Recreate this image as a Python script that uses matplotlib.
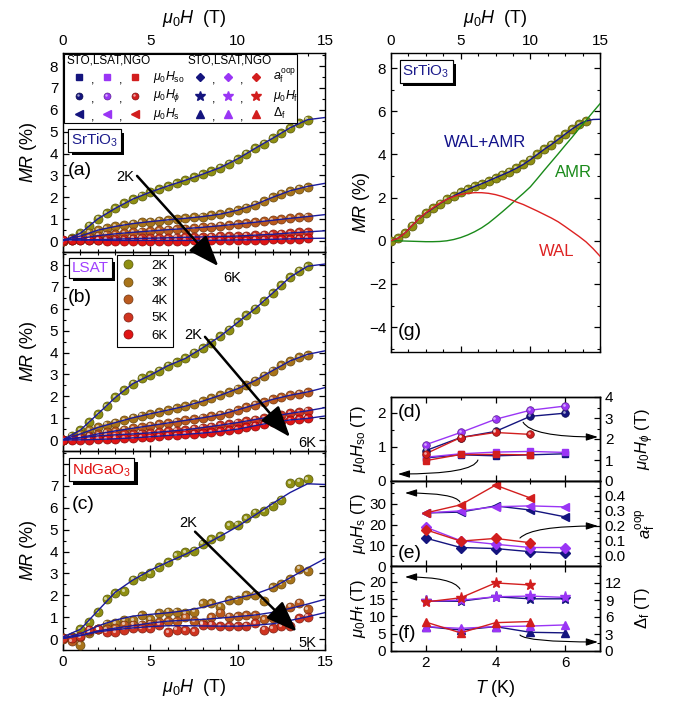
import numpy as np
import matplotlib
matplotlib.use('Agg')
import matplotlib.pyplot as plt
import matplotlib.colors as mcolors
from matplotlib import patheffects
from matplotlib.patches import Rectangle
from matplotlib.ticker import MultipleLocator
from matplotlib.transforms import ScaledTranslation

plt.rcParams['font.family'] = ['Liberation Sans', 'DejaVu Sans']
plt.rcParams['mathtext.fontset'] = 'custom'
plt.rcParams['mathtext.rm'] = 'Liberation Sans'
plt.rcParams['mathtext.it'] = 'Liberation Sans:italic'
plt.rcParams['mathtext.bf'] = 'Liberation Sans:bold'
plt.rcParams['axes.linewidth'] = 1.0

# ---- field grids (T)
B_pts = np.arange(0, 14.01, 0.5)
B_fit = np.arange(0, 15.01, 1.0)
B_fine = np.arange(0, 15.01, 0.5)

temp_labels = ['2K', '3K', '4K', '5K', '6K']
temp_colors = ['#8f8f12', '#a8741a', '#ba5a1e', '#cf3420', '#e01414']
fit_blue = '#1a1a9a'

# ---- SrTiO3 MR (%)
sto_pts = [
    [0.0, 0.12, 0.36, 0.7, 1.02, 1.28, 1.5, 1.72, 1.92, 2.08, 2.24, 2.38, 2.52, 2.64, 2.78, 2.92, 3.06, 3.2, 3.36, 3.54, 3.76, 4.0, 4.24, 4.46, 4.7, 4.94, 5.18, 5.4, 5.55],
    [0.02, 0.1, 0.23, 0.38, 0.5, 0.6, 0.67, 0.74, 0.8, 0.85, 0.89, 0.93, 0.97, 1.0, 1.04, 1.08, 1.12, 1.17, 1.23, 1.31, 1.41, 1.53, 1.67, 1.83, 2.0, 2.17, 2.3, 2.4, 2.48],
    [0.0, 0.05, 0.12, 0.18, 0.25, 0.3, 0.33, 0.37, 0.4, 0.43, 0.46, 0.49, 0.52, 0.54, 0.57, 0.6, 0.63, 0.66, 0.7, 0.74, 0.78, 0.82, 0.86, 0.9, 0.95, 1.0, 1.04, 1.08, 1.12],
    [0.02, 0.03, 0.04, 0.05, 0.07, 0.08, 0.09, 0.1, 0.11, 0.12, 0.13, 0.14, 0.15, 0.16, 0.17, 0.18, 0.19, 0.2, 0.21, 0.22, 0.23, 0.25, 0.27, 0.29, 0.31, 0.34, 0.37, 0.4, 0.42],
    [0.04, 0.04, 0.03, 0.03, 0.03, 0.02, 0.02, 0.02, 0.02, 0.02, 0.02, 0.02, 0.02, 0.02, 0.02, 0.03, 0.03, 0.03, 0.04, 0.04, 0.05, 0.05, 0.06, 0.07, 0.08, 0.09, 0.1, 0.11, 0.12],
]
sto_fit = [
    [0.0, 0.36, 1.02, 1.5, 1.92, 2.24, 2.52, 2.78, 3.06, 3.36, 3.76, 4.24, 4.7, 5.18, 5.55, 5.65],
    [0.05, 0.23, 0.5, 0.67, 0.8, 0.89, 0.97, 1.04, 1.12, 1.23, 1.41, 1.67, 2.0, 2.3, 2.5, 2.64],
    [0.05, 0.12, 0.25, 0.33, 0.4, 0.46, 0.52, 0.57, 0.63, 0.7, 0.78, 0.86, 0.95, 1.04, 1.12, 1.21],
    [0.06, 0.05, 0.07, 0.09, 0.11, 0.13, 0.15, 0.17, 0.19, 0.21, 0.23, 0.27, 0.31, 0.37, 0.42, 0.47],
    [0.08, 0.05, 0.04, 0.03, 0.03, 0.03, 0.03, 0.03, 0.03, 0.04, 0.05, 0.06, 0.08, 0.1, 0.12, 0.13],
]

# ---- LSAT MR (%)
lsat_pts = [
    [0.0, 0.2, 0.46, 0.82, 1.2, 1.55, 1.95, 2.3, 2.58, 2.82, 2.97, 3.18, 3.4, 3.58, 3.73, 4.0, 4.22, 4.45, 4.75, 5.05, 5.38, 5.71, 6.01, 6.34, 6.72, 7.08, 7.45, 7.75, 7.95],
    [0.0, 0.1, 0.28, 0.45, 0.58, 0.7, 0.8, 0.9, 1.02, 1.12, 1.2, 1.28, 1.37, 1.45, 1.55, 1.66, 1.78, 1.92, 2.05, 2.2, 2.35, 2.52, 2.72, 2.95, 3.18, 3.42, 3.62, 3.78, 3.9],
    [0.0, 0.04, 0.12, 0.2, 0.28, 0.35, 0.42, 0.48, 0.54, 0.6, 0.66, 0.72, 0.78, 0.84, 0.9, 0.96, 1.02, 1.08, 1.16, 1.26, 1.38, 1.5, 1.62, 1.74, 1.86, 1.96, 2.05, 2.12, 2.18],
    [0.0, 0.04, 0.1, 0.15, 0.19, 0.22, 0.24, 0.26, 0.28, 0.3, 0.33, 0.36, 0.4, 0.43, 0.47, 0.52, 0.57, 0.62, 0.68, 0.74, 0.8, 0.87, 0.94, 1.01, 1.08, 1.15, 1.22, 1.28, 1.34],
    [0.0, 0.0, 0.01, 0.02, 0.03, 0.04, 0.06, 0.08, 0.1, 0.12, 0.15, 0.18, 0.21, 0.23, 0.26, 0.29, 0.32, 0.35, 0.4, 0.45, 0.5, 0.58, 0.66, 0.74, 0.81, 0.87, 0.92, 0.96, 0.99],
]
lsat_fit = [
    [0.02, 0.46, 1.2, 1.95, 2.58, 2.97, 3.4, 3.73, 4.22, 4.75, 5.38, 6.01, 6.72, 7.45, 7.95, 8.05],
    [0.02, 0.28, 0.58, 0.8, 1.02, 1.2, 1.37, 1.55, 1.78, 2.05, 2.35, 2.72, 3.18, 3.62, 3.92, 4.08],
    [0.02, 0.12, 0.28, 0.42, 0.54, 0.66, 0.78, 0.9, 1.02, 1.16, 1.38, 1.62, 1.86, 2.05, 2.2, 2.4],
    [0.02, 0.1, 0.19, 0.24, 0.28, 0.33, 0.4, 0.47, 0.57, 0.68, 0.8, 0.94, 1.08, 1.22, 1.34, 1.48],
    [0.0, 0.01, 0.03, 0.06, 0.1, 0.15, 0.21, 0.26, 0.32, 0.4, 0.5, 0.66, 0.81, 0.92, 0.99, 1.1],
]

# ---- NdGaO3 MR (%), 2K-5K
ngo_pts = [
    [0.05, 0.1, 0.45, 0.78, 1.23, 1.82, 2.09, 2.2, 2.72, 2.87, 3.02, 3.29, 3.51, 3.84, 3.96, 4.04, 4.36, 4.56, 4.71, 5.2, 5.23, 5.53, 5.78, 5.86, 6.1, 6.38, 7.14, 7.2, 7.32],
    [0.05, 0.1, -0.25, 0.3, 0.45, 0.7, 0.73, 0.88, 0.88, 1.11, 0.91, 1.2, 1.26, 1.26, 1.18, 1.26, 1.64, 1.64, 1.48, 1.78, 1.8, 2.01, 2.03, 1.76, 2.39, 2.5, 2.74, 3.22, 3.12],
    [0.02, -0.1, 0.1, 0.36, 0.46, 0.46, 0.51, 0.66, 0.66, 0.66, 0.71, 0.77, 0.81, 0.81, 1.01, 0.81, 0.73, 1.01, 1.21, 1.03, 1.06, 1.1, 1.1, 0.91, 0.96, 1.03, 1.48, 1.67, 1.36],
    [0.06, 0.06, 0.15, 0.43, 0.46, 0.31, 0.31, 0.43, 0.51, 0.51, 0.51, 0.66, 0.31, 0.43, 0.4, 0.36, 0.66, 0.66, 0.58, 0.58, 0.58, 0.61, 0.73, 0.43, 0.51, 0.58, 0.58, 0.96, 1.03],
]
ngo_fit = [
    [0.1, 0.45, 1.3, 2.15, 2.7, 3.15, 3.52, 3.87, 4.27, 4.7, 5.15, 5.67, 6.2, 6.7, 7.1, 7.07],
    [0.05, 0.25, 0.6, 0.87, 1.05, 1.13, 1.2, 1.3, 1.45, 1.68, 1.88, 2.06, 2.35, 2.8, 3.25, 3.68],
    [0.03, 0.17, 0.37, 0.5, 0.61, 0.73, 0.82, 0.86, 0.9, 0.96, 1.03, 1.1, 1.22, 1.4, 1.6, 1.82],
    [0.03, 0.16, 0.33, 0.43, 0.51, 0.57, 0.61, 0.61, 0.6, 0.59, 0.59, 0.63, 0.7, 0.85, 1.02, 1.21],
]

# ---- SrTiO3 2K decomposition (%)
wal_amr = [0.0, 0.12, 0.36, 0.7, 1.02, 1.28, 1.5, 1.72, 1.92, 2.08, 2.24, 2.38, 2.52, 2.64, 2.78, 2.92,
           3.06, 3.2, 3.36, 3.54, 3.76, 4.0, 4.24, 4.46, 4.7, 4.94, 5.18, 5.4, 5.55, 5.62, 5.63]
amr = [0.0, 0.0, -0.01, -0.02, -0.03, -0.04, -0.04, -0.03, 0.0, 0.06, 0.15, 0.27, 0.42, 0.6, 0.82, 1.08,
       1.35, 1.63, 1.92, 2.2, 2.5, 2.88, 3.27, 3.65, 4.03, 4.42, 4.8, 5.2, 5.58, 5.97, 6.35]
wal = [0.0, 0.12, 0.36, 0.7, 1.02, 1.3, 1.53, 1.74, 1.92, 2.05, 2.15, 2.2, 2.23, 2.23, 2.2, 2.14,
       2.05, 1.93, 1.8, 1.68, 1.53, 1.38, 1.22, 1.06, 0.88, 0.66, 0.43, 0.2, -0.05, -0.36, -0.71]

# ---- fit parameters vs temperature
T_all = [2, 3, 4, 5, 6]
T_ngo = [2, 3, 4, 5]
Hso = {'STO': [0.68, 0.77, 0.74, 0.77, 0.80], 'LSAT': [0.70, 0.80, 0.85, 0.87, 0.84], 'NGO': [0.60, 0.78, 0.78, 0.77]}
Hphi = {'STO': [1.45, 2.07, 2.36, 3.08, 3.23], 'LSAT': [1.73, 2.31, 2.94, 3.37, 3.57], 'NGO': [1.30, 2.07, 2.31, 2.22]}
Hs = {'STO': [25.6, 26.0, 29.0, 27.0, 23.7], 'LSAT': [25.6, 26.6, 28.6, 29.0, 28.5], 'NGO': [25.6, 29.5, 39.0, 32.8]}
aoop = {'STO': [0.117, 0.054, 0.047, 0.026, 0.015], 'LSAT': [0.19, 0.10, 0.076, 0.054, 0.054], 'NGO': [0.173, 0.097, 0.115, 0.086]}
Hf = {'STO': [14.4, 14.4, 15.7, 15.1, 15.1], 'LSAT': [14.4, 14.7, 15.7, 15.9, 15.5], 'NGO': [14.2, 15.4, 19.7, 19.1]}
Delta = {'STO': [4.3, 3.7, 4.3, 3.3, 3.2], 'LSAT': [4.3, 4.0, 4.3, 4.4, 4.6], 'NGO': [5.1, 3.2, 5.0, 5.2]}

samples = ['STO', 'LSAT', 'NGO']
sample_colors = {'STO': '#14147e', 'LSAT': '#9a35f5', 'NGO': '#d21e1e'}
sample_T = {'STO': T_all, 'LSAT': T_all, 'NGO': T_ngo}

fig = plt.figure(figsize=(6.8, 7.1), dpi=100)


def darker(c, f=0.6):
    r, g, b = mcolors.to_rgb(c)
    return (r * f, g * f, b * f)


def spheres(ax, x, y, color, ms=6.5, **kw):
    base = kw.pop('transform', ax.transData)
    line, = ax.plot(x, y, 'o', ms=ms, mfc=color, mec=darker(color), mew=0.5, zorder=3,
                    transform=base, **kw)
    shift = base + ScaledTranslation(-0.14 * ms / 72, 0.14 * ms / 72, fig.dpi_scale_trans)
    ax.plot(x, y, 'o', ms=ms * 0.35, mfc='white', mec='none', alpha=0.6, zorder=3.5,
            transform=shift, **kw)
    return line


def style(ax, xmaj, xmin, ymaj, ymin, right=True):
    ax.xaxis.set_major_locator(MultipleLocator(xmaj))
    ax.xaxis.set_minor_locator(MultipleLocator(xmin))
    ax.yaxis.set_major_locator(MultipleLocator(ymaj))
    ax.yaxis.set_minor_locator(MultipleLocator(ymin))
    ax.tick_params(which='both', direction='in', top=True, right=right, labelsize=11)
    ax.tick_params(which='major', length=4, width=0.9)
    ax.tick_params(which='minor', length=2, width=0.8)


def material(ax, x, y, s, color):
    t = ax.text(x, y, s, transform=ax.transAxes, color=color, fontsize=11, ha='left', va='center',
                bbox=dict(boxstyle='square,pad=0.18', fc='white', ec='black', lw=0.8), zorder=12)
    t.get_bbox_patch().set_path_effects([
        patheffects.withSimplePatchShadow(offset=(2.5, -2.5), shadow_rgbFace='black', alpha=1.0),
        patheffects.Normal()])


def big_arrow(ax, start, tip):
    ax.annotate('', xy=tip, xytext=start, annotation_clip=False, zorder=15,
                arrowprops=dict(arrowstyle='-|>,head_length=1.2,head_width=0.45', lw=1.8,
                                color='black', mutation_scale=16, shrinkA=0, shrinkB=0))


def curved(ax, tail, head, angA):
    ax.annotate('', xy=head, xytext=tail, xycoords='axes fraction', textcoords='axes fraction',
                arrowprops=dict(arrowstyle='-|>,head_length=0.7,head_width=0.22', lw=0.8, color='black',
                                mutation_scale=10, shrinkA=0, shrinkB=0,
                                connectionstyle=f'angle3,angleA={angA},angleB=0'))


# ---- left column: MR vs field
lx, lw_ = 63 / 680, 262 / 680
ph = 199 / 710
ax_a = fig.add_axes([lx, 1 - 252 / 710, lw_, ph])
ax_b = fig.add_axes([lx, 1 - 451 / 710, lw_, ph])
ax_c = fig.add_axes([lx, 1 - 650 / 710, lw_, ph])
# let the temperature arrow of (a) run over into (b)
ax_b.patch.set_visible(False)
ax_c.patch.set_visible(False)

b_handles = []
for ax, pts, fits in [(ax_a, sto_pts, sto_fit), (ax_b, lsat_pts, lsat_fit), (ax_c, ngo_pts, ngo_fit)]:
    for k, (p, f) in enumerate(zip(pts, fits)):
        h = spheres(ax, B_pts, p, temp_colors[k])
        ax.plot(B_fit, f, color=fit_blue, lw=1.0, zorder=5)
        if ax is ax_b:
            b_handles.append(h)
    ax.set_xlim(0, 15)
    ax.set_ylim(-0.5, 8.6)
    style(ax, 5, 1, 1, 0.5)
    ax.set_ylabel(r'$MR$ (%)', fontsize=13)
    ax.yaxis.set_label_coords(-0.09, 0.5)

ax_a.tick_params(labeltop=True, labelbottom=False)
ax_a.xaxis.set_label_position('top')
ax_a.set_xlabel(r'$\mu_0H$  (T)', fontsize=13, labelpad=8)
ax_b.tick_params(labelbottom=False)
ax_c.set_yticks(range(9))
ax_c.set_yticklabels([str(i) for i in range(8)] + [''])
ax_c.set_xlabel(r'$\mu_0H$  (T)', fontsize=13, labelpad=6)

ax_a.text(0.02, 0.41, '(a)', transform=ax_a.transAxes, fontsize=14, va='center')
ax_b.text(0.02, 0.77, '(b)', transform=ax_b.transAxes, fontsize=14, va='center')
ax_c.text(0.035, 0.73, '(c)', transform=ax_c.transAxes, fontsize=14, va='center')
material(ax_a, 0.03, 0.56, r'SrTiO$_3$', '#1c1c8c')
material(ax_b, 0.035, 0.92, 'LSAT', '#a040ff')
material(ax_c, 0.035, 0.905, r'NdGaO$_3$', '#e01010')

# temperature arrows
big_arrow(ax_a, (4.24, 2.98), (8.9, -1.15))
ax_a.text(4.05, 2.95, '2K', fontsize=10.5, ha='right', va='center', zorder=15)
ax_a.text(9.7, -1.7, '6K', fontsize=10.5, ha='center', va='center', zorder=15, clip_on=False)
big_arrow(ax_b, (8.13, 4.72), (13.0, 0.14))
ax_b.text(7.96, 4.81, '2K', fontsize=10.5, ha='right', va='center', zorder=15)
ax_b.text(14.0, -0.12, '6K', fontsize=10.5, ha='center', va='center', zorder=15)
big_arrow(ax_c, (7.56, 4.91), (13.38, 0.34))
ax_c.text(7.67, 5.31, '2K', fontsize=10.5, ha='right', va='center', zorder=15)
ax_c.text(14.0, -0.16, '5K', fontsize=10.5, ha='center', va='center', zorder=15)

ax_b.legend(b_handles, temp_labels, loc='upper left', bbox_to_anchor=(0.205, 0.985), fontsize=9.5,
            frameon=True, fancybox=False, edgecolor='black', framealpha=1, borderpad=0.35,
            labelspacing=0.4, handlelength=1.0, handletextpad=1.3, borderaxespad=0)
ax_b.get_legend().get_frame().set_linewidth(0.8)

# symbol key for the parameter panels
ax_a.add_patch(Rectangle((0.003, 0.648), 0.889, 0.347, transform=ax_a.transAxes, fc='white',
                         ec='black', lw=0.8, zorder=10))
ax_a.text(0.015, 0.962, 'STO,LSAT,NGO', transform=ax_a.transAxes, fontsize=8.5, va='center', zorder=11)
ax_a.text(0.477, 0.962, 'STO,LSAT,NGO', transform=ax_a.transAxes, fontsize=8.5, va='center', zorder=11)
key_rows = [0.881, 0.785, 0.695]
key_groups = [
    (['s', 'o', '<'], [r'$\mu_0H_{\rm so}$', r'$\mu_0H_\phi$', r'$\mu_0H_{\rm s}$'], [0.061, 0.168, 0.275], 0.344),
    (['D', '*', '^'], [r'$a_{\rm f}^{\rm oop}$', r'$\mu_0H_{\rm f}$', r'$\mathit{\Delta}_{\rm f}$'], [0.523, 0.63, 0.737], 0.80),
]
n_before = len(ax_a.lines)
for marks, labels, xs, xl in key_groups:
    for y, m, lab in zip(key_rows, marks, labels):
        for x, s in zip(xs, samples):
            ms = {'s': 5, 'o': 5, '<': 5.5, 'D': 4.5, '*': 7, '^': 5.5}[m]
            if m == 'o':
                spheres(ax_a, [x], [y], sample_colors[s], ms=ms, transform=ax_a.transAxes, clip_on=False)
            else:
                ax_a.plot([x], [y], m, ms=ms, color=sample_colors[s], transform=ax_a.transAxes,
                          clip_on=False)
        for xc in [(xs[0] + xs[1]) / 2, (xs[1] + xs[2]) / 2]:
            ax_a.text(xc, y - 0.02, ',', transform=ax_a.transAxes, fontsize=9, ha='center', va='center', zorder=11)
        ax_a.text(xl, y, lab, transform=ax_a.transAxes, fontsize=8.8, va='center', zorder=11)
for ln in ax_a.lines[n_before:]:
    ln.set_zorder(11)

# ---- right column
rx, rw = 391 / 680, 209 / 680
ax_g = fig.add_axes([rx, 1 - 352 / 710, rw, 299 / 710])
spheres(ax_g, B_pts, sto_pts[0], temp_colors[0])
ax_g.plot(B_fine, wal_amr, color='#12128a', lw=1.0, zorder=5)
ax_g.plot(B_fine, amr, color='#1a8a1a', lw=1.0, zorder=5)
ax_g.plot(B_fine, wal, color='#dd2222', lw=1.0, zorder=5)
ax_g.set_xlim(0, 15)
ax_g.set_ylim(-5.15, 8.7)
style(ax_g, 5, 1.25, 2, 1)
ax_g.tick_params(labeltop=True, labelbottom=False)
ax_g.xaxis.set_label_position('top')
ax_g.set_xlabel(r'$\mu_0H$  (T)', fontsize=13, labelpad=8)
ax_g.set_ylabel(r'$MR$ (%)', fontsize=13)
ax_g.yaxis.set_label_coords(-0.09, 0.5)
ax_g.text(6.76, 4.54, 'WAL+AMR', color='#12128a', fontsize=12, ha='center', va='center')
ax_g.text(13.1, 3.15, 'AMR', color='#1a8a1a', fontsize=12, ha='center', va='center')
ax_g.text(11.9, -0.5, 'WAL', color='#dd2222', fontsize=12, ha='center', va='center')
ax_g.text(0.03, 0.07, '(g)', transform=ax_g.transAxes, fontsize=14, va='center')
material(ax_g, 0.055, 0.938, r'SrTiO$_3$', '#1c1c8c')

ax_d = fig.add_axes([rx, 1 - 481 / 710, rw, 84 / 710])
ax_e = fig.add_axes([rx, 1 - 566 / 710, rw, 85 / 710])
ax_f = fig.add_axes([rx, 1 - 651 / 710, rw, 85 / 710])
ax_d2, ax_e2, ax_f2 = ax_d.twinx(), ax_e.twinx(), ax_f.twinx()

panels = [
    (ax_d, Hso, 's', 5, ax_d2, Hphi, 'o', 5.5),
    (ax_e, Hs, '<', 6, ax_e2, aoop, 'D', 5),
    (ax_f, Hf, '*', 8, ax_f2, Delta, '^', 6),
]
for axL, dL, mL, sL, axR, dR, mR, sR in panels:
    for s in samples:
        c = sample_colors[s]
        axL.plot(sample_T[s], dL[s], '-', marker=mL, ms=sL, color=c, lw=1.0)
        if mR == 'o':
            axR.plot(sample_T[s], dR[s], '-', color=c, lw=1.0)
            spheres(axR, sample_T[s], dR[s], c, ms=sR)
        else:
            axR.plot(sample_T[s], dR[s], '-', marker=mR, ms=sR, color=c, lw=1.0)
    axL.set_xlim(1, 7)
    axL.xaxis.set_major_locator(MultipleLocator(2))
    axL.xaxis.set_minor_locator(MultipleLocator(1))
    axL.tick_params(which='both', direction='in', top=True, right=False, labelsize=11, labelbottom=False)
    axL.tick_params(which='major', length=4, width=0.9)
    axL.tick_params(which='minor', length=2, width=0.8)
    axR.tick_params(which='both', direction='in', labelsize=11)
    axR.tick_params(which='major', length=4, width=0.9)
    axR.tick_params(which='minor', length=2, width=0.8)

ax_d.set_ylim(0, 2.47)
ax_d.set_yticks([0, 1, 2])
ax_d.yaxis.set_minor_locator(MultipleLocator(0.5))
ax_d2.set_ylim(0, 4.0)
ax_d2.set_yticks([0, 1, 2, 3, 4])
ax_d2.yaxis.set_minor_locator(MultipleLocator(0.5))
ax_e.set_ylim(0, 41)
ax_e.set_yticks([0, 10, 20, 30])
ax_e.yaxis.set_minor_locator(MultipleLocator(5))
ax_e2.set_ylim(-0.07, 0.5)
ax_e2.set_yticks([0.0, 0.1, 0.2, 0.3, 0.4])
ax_e2.yaxis.set_minor_locator(MultipleLocator(0.05))
ax_f.set_ylim(0, 24.6)
ax_f.set_yticks([0, 5, 10, 15, 20])
ax_f.yaxis.set_minor_locator(MultipleLocator(2.5))
ax_f2.set_ylim(0, 15)
ax_f2.set_yticks([0, 3, 6, 9, 12])
ax_f2.yaxis.set_minor_locator(MultipleLocator(1.5))
ax_f.tick_params(labelbottom=True)
ax_f.set_xlabel(r'$T$ (K)', fontsize=13, labelpad=6)

for ax, lab in [(ax_d, r'$\mu_0H_{\rm so}$ (T)'), (ax_e, r'$\mu_0H_{\rm s}$ (T)'), (ax_f, r'$\mu_0H_{\rm f}$ (T)')]:
    ax.set_ylabel(lab, fontsize=12)
    ax.yaxis.set_label_coords(-0.11, 0.5)
for ax, lab in [(ax_d2, r'$\mu_0H_\phi$ (T)'), (ax_e2, r'$a_{\rm f}^{\rm oop}$'), (ax_f2, r'$\mathit{\Delta}_{\rm f}$ (T)')]:
    ax.set_ylabel(lab, fontsize=12, rotation=90)
    ax.yaxis.set_label_coords(1.16, 0.5)

ax_d2.text(0.03, 0.81, '(d)', transform=ax_d2.transAxes, fontsize=14, va='center')
ax_e2.text(0.03, 0.15, '(e)', transform=ax_e2.transAxes, fontsize=14, va='center')
ax_f2.text(0.03, 0.2, '(f)', transform=ax_f2.transAxes, fontsize=14, va='center')

curved(ax_d2, (0.416, 0.25), (0.033, 0.083), 70)
curved(ax_d2, (0.632, 0.70), (0.99, 0.524), -60)
curved(ax_e2, (0.33, 0.753), (0.067, 0.859), 120)
curved(ax_e2, (0.617, 0.329), (0.99, 0.471), 45)
curved(ax_f2, (0.33, 0.729), (0.067, 0.871), 120)
curved(ax_f2, (0.617, 0.188), (0.99, 0.106), -45)

fig.savefig('out.png', dpi=100)
